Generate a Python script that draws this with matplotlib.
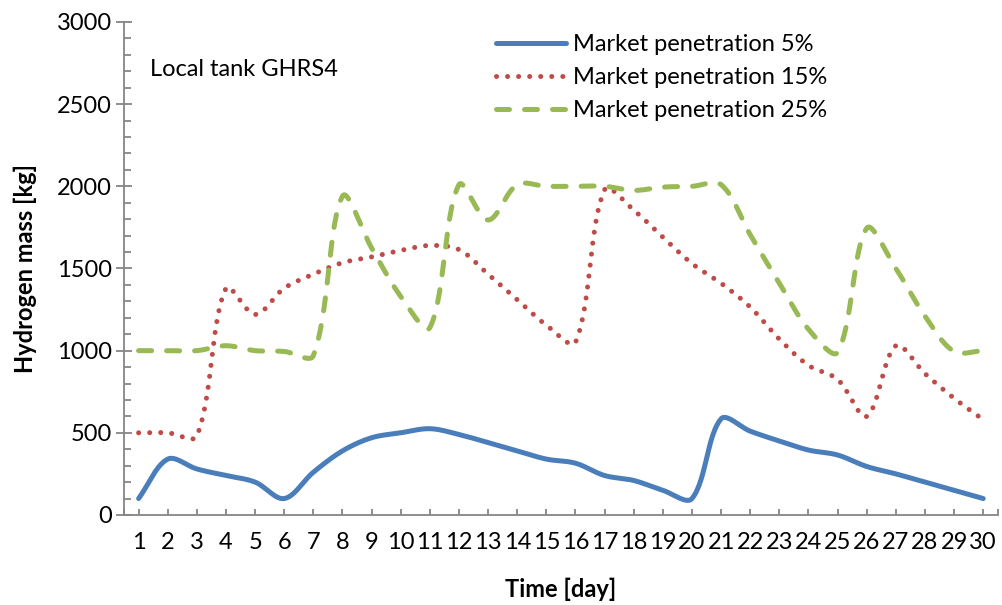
import matplotlib
matplotlib.use("Agg")
import matplotlib.pyplot as plt
import numpy as np
from matplotlib.ticker import MultipleLocator

plt.rcParams["font.family"] = ["Lato", "DejaVu Sans"]

days = np.arange(1, 31)
day_labels = [str(d) for d in days]

# hydrogen mass in the local tank [kg]
mp5 = [100, 340, 280, 240, 200, 100, 260, 390, 470, 500,
       525, 490, 440, 390, 340, 315, 240, 210, 150, 100,
       585, 510, 450, 395, 365, 295, 250, 200, 150, 100]
mp15 = [500, 500, 480, 1380, 1220, 1380, 1465, 1535, 1570, 1610,
        1640, 1615, 1465, 1310, 1155, 1050, 1980, 1855, 1690, 1530,
        1410, 1265, 1070, 910, 825, 600, 1030, 860, 710, 580]
mp25 = [1000, 1000, 1000, 1030, 1000, 995, 970, 1940, 1625, 1330,
        1140, 2010, 1795, 2010, 2000, 2000, 2000, 1975, 1995, 2000,
        2010, 1705, 1410, 1130, 990, 1745, 1500, 1210, 995, 1000]

series_names = ["Market penetration 5%", "Market penetration 15%", "Market penetration 25%"]

# screen scale (px per unit) used to weight the smoothing
PX_X = 874 / 30
PX_Y = 493 / 3000


def smooth(x, y, n=30):
    # smoothed line as in spreadsheet charts: cubic Bezier through the points,
    # control arms from the neighbours, scaled by on-screen segment lengths
    x = np.asarray(x, float)
    y = np.asarray(y, float)
    px = np.concatenate([[x[0]], x, [x[-1]]])
    py = np.concatenate([[y[0]], y, [y[-1]]])
    pts = np.column_stack([px, py])

    def dist(a, b):
        return np.hypot((a[0] - b[0]) * PX_X, (a[1] - b[1]) * PX_Y)

    t = np.linspace(0, 1, n, endpoint=False)[:, None]
    out = []
    for i in range(1, len(pts) - 2):
        pm, p0, p3, pp = pts[i - 1], pts[i], pts[i + 1], pts[i + 2]
        d01 = dist(p0, p3)
        dm0 = dist(pm, p0)
        d3p = dist(p3, pp)
        c1 = p0 + (p3 - pm) / 3 * (d01 / (dm0 + d01) if dm0 + d01 > 0 else 0)
        c2 = p3 - (pp - p0) / 3 * (d01 / (d01 + d3p) if d01 + d3p > 0 else 0)
        b = ((1 - t) ** 3) * p0 + 3 * ((1 - t) ** 2) * t * c1 + 3 * (1 - t) * t ** 2 * c2 + t ** 3 * p3
        out.append(b)
    out.append(pts[-2][None, :])
    out = np.vstack(out)
    return out[:, 0], out[:, 1]


fig = plt.figure(figsize=(10.02, 6.05), dpi=100)
ax = fig.add_axes([0.1238, 0.1488, 0.872, 0.8149])

lw = 3.6
sx, sy = smooth(days, mp5)
ax.plot(sx, sy, color="#4A7EBB", lw=lw, solid_capstyle="round", label=series_names[0])
sx, sy = smooth(days, mp15)
ax.plot(sx, sy, color="#BE4B48", lw=lw, linestyle=(0, (0.01, 2.2)),
        dash_capstyle="round", label=series_names[1])
sx, sy = smooth(days, mp25)
ax.plot(sx, sy, color="#98B954", lw=lw, linestyle=(0, (2.6, 3.0)),
        dash_capstyle="round", label=series_names[2])

ax.set_xlim(0.5, 30.5)
ax.set_ylim(0, 3000)
ax.set_xticks(days)
ax.set_xticklabels(day_labels)
ax.set_xticks([0.5, 30.5], minor=True)
ax.yaxis.set_major_locator(MultipleLocator(500))
ax.yaxis.set_minor_locator(MultipleLocator(100))

for s in ["top", "right"]:
    ax.spines[s].set_visible(False)
for s in ["left", "bottom"]:
    ax.spines[s].set_color("#868686")
    ax.spines[s].set_linewidth(1.3)

ax.tick_params(axis="y", which="major", direction="inout", length=11.5, width=1.3,
               color="#868686", labelsize=17, pad=3)
ax.tick_params(axis="y", which="minor", direction="in", length=5, width=1.3, color="#868686")
ax.tick_params(axis="x", which="both", direction="in", length=4.5, width=1.3,
               color="#868686", labelsize=17, pad=12)

ax.set_ylabel("Hydrogen mass [kg]", fontsize=17, fontweight="bold", labelpad=14)
ax.set_xlabel("Time [day]", fontsize=17, fontweight="bold", labelpad=18)

ax.text(0.0297, 0.9026, "Local tank GHRS4", transform=ax.transAxes,
        fontsize=17, va="center", ha="left")

ax.legend(loc="upper left", bbox_to_anchor=(0.4256, 0.975), frameon=False,
          fontsize=17, handlelength=2.95, handletextpad=0.3, labelspacing=0.5,
          borderpad=0, borderaxespad=0)

fig.savefig("out.png", dpi=100)
